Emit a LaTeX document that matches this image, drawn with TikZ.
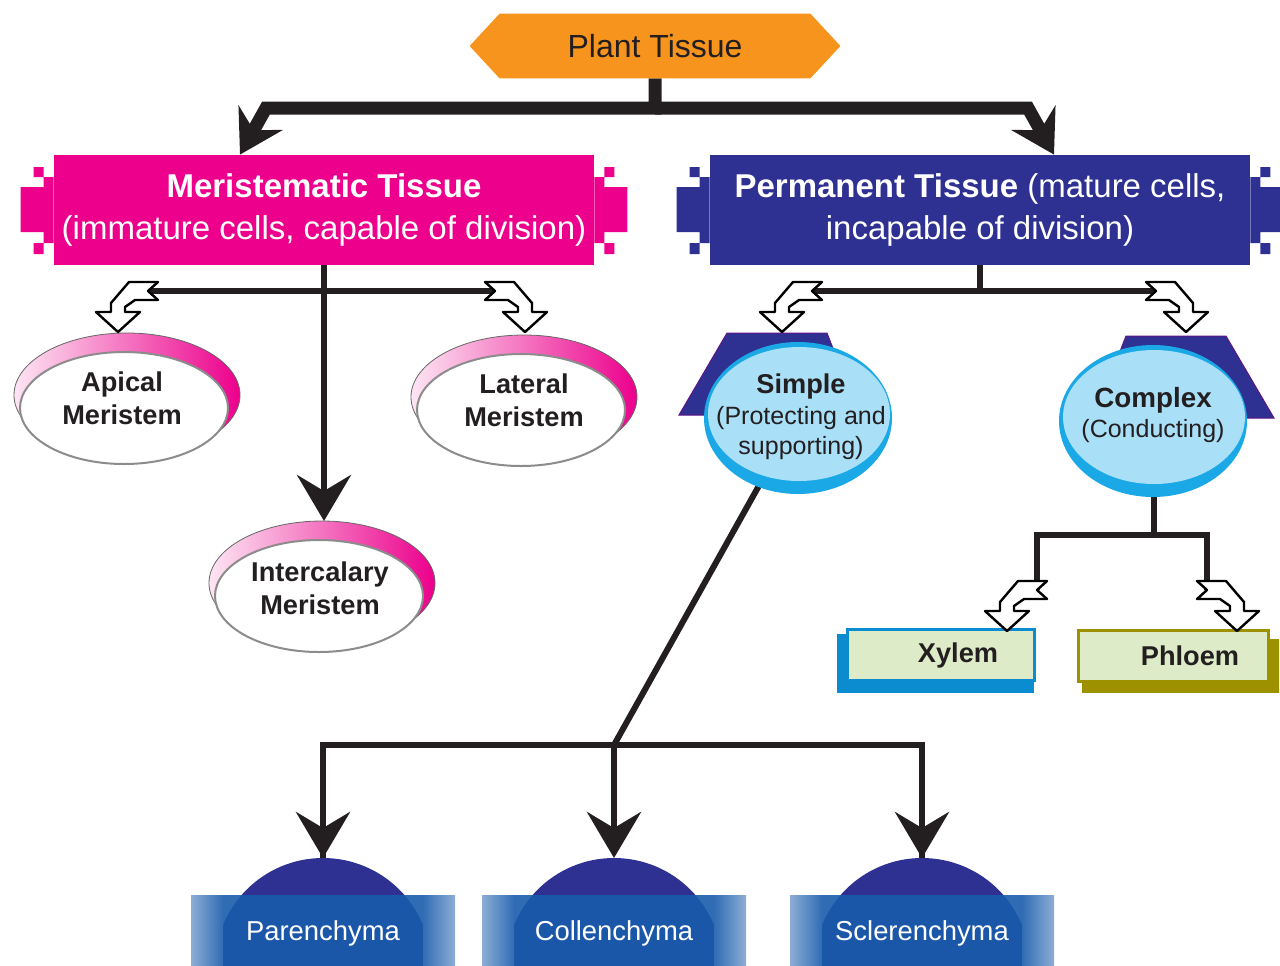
\documentclass[tikz,border=0pt]{standalone}
\usepackage{fontspec}
\setmainfont{Liberation Sans}
\usetikzlibrary{arrows.meta, positioning, calc, backgrounds, shapes.geometric}

\definecolor{torange}{HTML}{F7941D}
\definecolor{tmagenta}{HTML}{EC008C}
\definecolor{tindigo}{HTML}{2E3192}
\definecolor{tsky}{HTML}{A9DFF7}
\definecolor{trim}{HTML}{1BA8E6}
\definecolor{tpale}{HTML}{DEEBC8}
\definecolor{txylem}{HTML}{0B8BD0}
\definecolor{tolive}{HTML}{9E9100}
\definecolor{ttile}{HTML}{1A5CAC}
\definecolor{tink}{HTML}{231F20}

% hollow bent arrow (tip at the origin, tail to the right)
\tikzset{
  hollow/.pic={
    \draw[fill=white, line width=1.2pt, line join=round]
      (0,0) -- (-22,-20) -- (-7,-20) -- (-7,-29) -- (11,-50) -- (40,-50)
      -- (30,-41) -- (40,-32) -- (17,-32) -- (7,-25) -- (7,-20) -- (22,-20) -- cycle;
    \coordinate (-tail) at (30,-41);
  }
}

% stepped pixel edge of the two top boxes
\newcommand{\pixedge}[3]{%
  \fill[#3, shift={(#1)}, xscale=#2]
    (-33,-23) rectangle (0,22) (-10,-33) rectangle (0,-23) (-10,22) rectangle (0,33)
    (-20,-43) rectangle (-10,-33) (-20,33) rectangle (-10,44);}
% pink crescent behind a meristem ellipse
\newcommand{\pinkrim}[1]{%
  \shade[left color=tmagenta!10, right color=tmagenta, draw=black!60, line width=0.4pt]
    ($(#1.center)+(3,-13)$) ellipse [x radius=113, y radius=62];
  \coordinate (#1-rim) at ($(#1.center)+(3,-75)$);}
% blue rim under a sky ellipse
\newcommand{\skyrim}[1]{%
  \fill[trim] ($(#1.center)+(-1,4)$) ellipse [x radius=94, y radius=76];}
% indigo roof behind a sky ellipse
\newcommand{\roof}[2]{%
  \fill[tindigo, draw=violet!60!tindigo, line width=0.5pt, shift={(#1.center)}, xscale=#2]
    (-72,-81) -- (28,-81) -- (60,1) -- (-120,1) -- cycle;}
% blue tile with dome at the bottom
\newcommand{\tile}[1]{%
  \fill[tindigo] ($(#1)+(0,33)$) circle [radius=108];
  \fill[ttile, opacity=0.9] ($(#1)+(-132,-38)$) rectangle ($(#1)+(132,40)$);
  \shade[left color=ttile!50, right color=ttile!90]
    ($(#1)+(-132,-38)$) rectangle ($(#1)+(-100,40)$);
  \shade[left color=ttile!90, right color=ttile!50]
    ($(#1)+(100,-38)$) rectangle ($(#1)+(132,40)$);
  \coordinate (#1-top) at ($(#1)+(0,-75)$);}

\begin{document}
\begin{tikzpicture}[x=0.5pt, y=-0.5pt,
    toparr/.style={line width=6.5pt, tink, -{Stealth[length=21pt, width=25pt, inset=7pt]}},
    droparr/.style={line width=3pt, tink, -{Stealth[length=23pt, width=27pt, inset=8pt]}},
    link/.style={line width=3pt, tink},
    toptxt/.style={font=\fontsize{16}{19}\selectfont, text=tink, minimum width=155pt,
                   minimum height=32pt, inner sep=0pt},
    bigbox/.style={rectangle, minimum width=270pt, minimum height=55pt, inner sep=0pt,
                   text=white, align=center, font=\fontsize{16.5}{21}\selectfont},
    merell/.style={ellipse, fill=white, draw=black!45, line width=1pt,
                   minimum width=104pt, minimum height=56pt, inner sep=0pt},
    mertxt/.style={align=center, text=tink, font=\bfseries\fontsize{13.6}{16.5}\selectfont},
    skyell/.style={ellipse, fill=tsky, minimum width=91pt, minimum height=67pt, inner sep=0pt},
    skytxt/.style={align=center, text=tink, font=\fontsize{12.5}{15.3}\selectfont},
    cellbox/.style={rectangle, fill=tpale, line width=1.5pt, minimum width=93.5pt,
                    minimum height=25.5pt, text=tink, font=\bfseries\fontsize{13.6}{16}\selectfont},
    tiletxt/.style={text=white, font=\fontsize{13.7}{16}\selectfont}
  ]
  \clip (0,0) rectangle (1280,965);

  % Top level
  \node[toptxt] (pt) at (655,46) {Plant Tissue};
  \node[bigbox, fill=tmagenta] (mer) at (324,210)
       {\textbf{Meristematic Tissue}\\(immature cells, capable of division)};
  \node[bigbox, fill=tindigo] (per) at (980,210)
       {\textbf{Permanent Tissue} (mature cells,\\incapable of division)};

  % Meristems
  \node[merell] (api) at (124,408) {};
  \node[merell] (lat) at (521,410) {};
  \node[merell] (inter) at (319,596) {};
  \node[mertxt] (api-t) at (122,398) {Apical\\Meristem};
  \node[mertxt] (lat-t) at (524,400) {Lateral\\Meristem};
  \node[mertxt] (inter-t) at (320,588) {Intercalary\\Meristem};

  % Simple and complex
  \node[skyell] (sim) at (799,414) {};
  \node[skyell] (com) at (1154,417) {};
  \node[skytxt] (sim-t) at (801,417)
       {\textbf{\fontsize{13.6}{15.3}\selectfont Simple}\\(Protecting and\\supporting)};
  \node[skytxt] (com-t) at (1153,415)
       {\textbf{\fontsize{13.9}{15.3}\selectfont Complex}\\(Conducting)};

  % Xylem and phloem
  \node[cellbox, draw=txylem] (xyl) at (941,655) {\hspace*{17pt}Xylem};
  \node[cellbox, draw=tolive, minimum width=95pt] (phl) at (1173,656) {\hspace*{17pt}Phloem};

  % Bottom row
  \node[tiletxt] (par) at (323,933) {Parenchyma};
  \node[tiletxt] (col) at (614,933) {Collenchyma};
  \node[tiletxt] (scl) at (922,933) {Sclerenchyma};

  % Hollow arrows
  \pic (ha) at (118,332) {hollow};
  \pic[xscale=-1] (hl) at (525,332) {hollow};
  \pic (hs) at (782,332) {hollow};
  \pic[xscale=-1] (hc) at (1186,332) {hollow};
  \pic (hx) at (1007,631) {hollow};
  \pic[xscale=-1] (hp) at (1237,631) {hollow};

  \begin{scope}[on background layer]
    \tile{par} \tile{col} \tile{scl}
    \pinkrim{api} \pinkrim{lat} \pinkrim{inter}

    % Connections
    \coordinate (tj) at (pt.south |- 0,108);
    \draw[toparr] (pt.south) -- (tj) -- (tj -| 266,0) -- (mer.north -| 240,0);
    \draw[toparr] (tj) -- (tj -| 1028,0) -- (per.north -| 1054,0);
    \draw[link] (ha-tail) -- (hl-tail);
    \draw[droparr] (mer.south) -- (mer.south |- inter-rim);
    \draw[link] (per.south) -- (per.south |- hs-tail);
    \draw[link] (hs-tail) -- (hc-tail);
    \coordinate (sj) at (614,745);
    \draw[link] (sim) -- (sj);
    \draw[link] (sj) -| (par-top);
    \draw[link] (sj) -| (scl-top);
    \draw[droparr] (sj -| par-top) -- (par-top);
    \draw[droparr] (sj) -- (col-top);
    \draw[droparr] (sj -| scl-top) -- (scl-top);
    \coordinate (cj) at ($(com.south)+(0,51)$);
    \draw[link] (com.south) -- (cj);
    \draw[link] (cj) -| (hx-tail);
    \draw[link] (cj) -| (hp-tail);

    % Decorations
    \fill[torange] (pt.north west) -- (pt.north east) -- ($(pt.east)+(30,0)$)
      -- (pt.south east) -- (pt.south west) -- ($(pt.west)+(-30,0)$) -- cycle;
    \pixedge{mer.west}{1}{tmagenta}
    \pixedge{mer.east}{-1}{tmagenta}
    \pixedge{per.west}{1}{tindigo}
    \pixedge{per.east}{-1}{tindigo}
    \roof{sim}{1} \roof{com}{-1}
    \skyrim{sim} \skyrim{com}
    \fill[txylem] ($(xyl.north west)+(-9,6)$) rectangle ($(xyl.south east)+(-2,11)$);
    \fill[tolive] ($(phl.north west)+(5,10)$) rectangle ($(phl.south east)+(9,10)$);
  \end{scope}
\end{tikzpicture}
\end{document}
